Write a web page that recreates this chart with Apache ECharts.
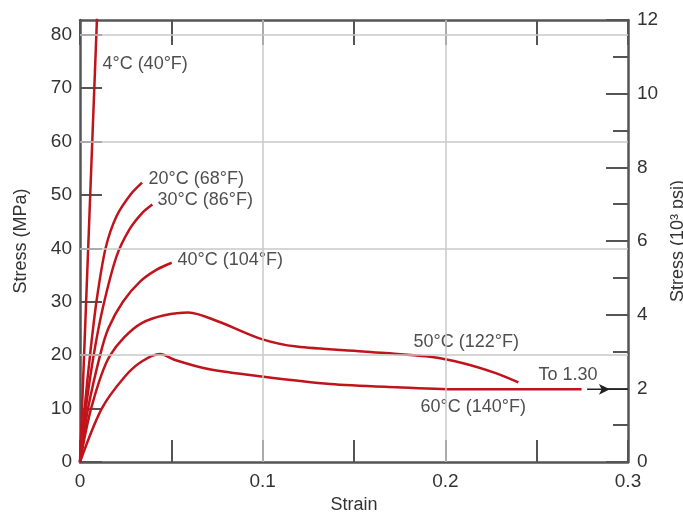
<!DOCTYPE html>
<html><head><meta charset="utf-8">
<script src="https://cdn.jsdelivr.net/npm/echarts@6/dist/echarts.min.js"></script>
<style>html,body{margin:0;padding:0;background:#fff}#c{width:683px;height:513px}</style>
</head><body><div id="c"></div>
<script>
// Stress (MPa) vs strain curves
const curve4C  = [[0,0],[0.0094,84]];
const curve20C = [[0,0],[0.0025,10],[0.0055,20],[0.009,30],[0.014,40],[0.02,46],[0.028,50.2],[0.034,52.3]];
const curve30C = [[0,0],[0.0032,10],[0.0075,20],[0.0126,29],[0.02,38.5],[0.027,43.5],[0.034,46.6],[0.0396,48.2]];
const curve40C = [[0,0],[0.0044,10],[0.011,20],[0.0155,25],[0.0235,30],[0.033,33.8],[0.042,36],[0.0502,37.3]];
const curve50C = [[0,0],[0.0064,10.4],[0.0164,19.9],[0.0338,26.0],[0.0593,28.0],[0.0757,26.3],[0.0995,23.0],[0.1186,21.6],[0.155,20.7],[0.1916,19.7],[0.2098,18.5],[0.228,16.6],[0.24,14.9]];
const curve60C = [[0,0],[0.0119,10.0],[0.0246,16.0],[0.0338,18.8],[0.0438,20.2],[0.052,19.1],[0.0702,17.4],[0.0995,16.0],[0.1369,14.6],[0.1734,14.0],[0.2098,13.6],[0.2746,13.6]];
const arrowLine = [[0.2776,13.6],[0.2901,13.6],[0.3,13.6]];

const curveLabels  = ['4°C (40°F)','20°C (68°F)','30°C (86°F)','40°C (104°F)','50°C (122°F)','60°C (140°F)','To 1.30'];
const labelAnchors = [[0.012,74.5],[0.0372,53.0],[0.0422,49.1],[0.0531,37.8],[0.1823,22.5],[0.1861,10.3],[0.2507,16.3]];

const gridStress = [20, 40, 60, 80];
const gridStrain = [0.1, 0.2];

const strainMax = 0.3;
const mpaMax = 12 * 6.895;   // 12 ksi in MPa
const ksiMax = 12;

const FONT = '"Liberation Sans", Arial, sans-serif';
const TXT = '#333';
const FRAME = '#555';
const RED = '#c0141c';

const chart = echarts.init(document.getElementById('c'));
const isMult = (v, s) => Math.abs(v / s - Math.round(v / s)) < 1e-6;

const baseX = {
  type: 'value', min: 0, max: strainMax, interval: 0.05,
  axisLine: {show: true, onZero: false, lineStyle: {color: FRAME, width: 2.5}},
  axisTick: {show: true, inside: true, length: 22, lineStyle: {color: FRAME, width: 2}},
  splitLine: {show: false}
};
const curveSeries = (d) => ({
  type: 'line', data: d, smooth: 0.3, symbol: 'none', xAxisIndex: 0, yAxisIndex: 0,
  lineStyle: {color: RED, width: 2.5}, z: 3
});

chart.setOption({
  animation: false,
  textStyle: {fontFamily: FONT},
  grid: {left: 80, right: 55, top: 20, bottom: 51, containLabel: false, outerBoundsMode: 'none'},
  xAxis: [
    Object.assign({}, baseX, {
      position: 'bottom',
      axisLabel: {margin: 10, fontSize: 19, color: TXT, fontFamily: FONT,
        formatter: v => isMult(v, 0.1) ? String(+v.toFixed(1)) : ''},
      name: 'Strain', nameLocation: 'middle', nameGap: 29,
      nameTextStyle: {fontSize: 18, color: TXT, fontFamily: FONT}
    }),
    Object.assign({}, baseX, {position: 'top', axisLabel: {show: false},
      axisTick: {show: true, inside: true, length: 25, lineStyle: {color: FRAME, width: 2}}})
  ],
  yAxis: [
    {type: 'value', min: 0, max: mpaMax, interval: 10, position: 'left',
      axisLine: {show: true, onZero: false, lineStyle: {color: FRAME, width: 2.5}},
      axisTick: {show: true, inside: true, length: 22, lineStyle: {color: FRAME, width: 2}},
      axisLabel: {margin: 8, fontSize: 19, color: TXT, fontFamily: FONT, showMaxLabel: false,
        formatter: v => isMult(v, 10) ? String(Math.round(v)) : ''},
      splitLine: {show: false},
      name: 'Stress (MPa)', nameLocation: 'middle', nameGap: 50, nameRotate: 90,
      nameTextStyle: {fontSize: 18, color: TXT, fontFamily: FONT}},
    {type: 'value', min: 0, max: ksiMax, interval: 2, position: 'right',
      axisLine: {show: true, onZero: false, lineStyle: {color: FRAME, width: 2.5}},
      axisTick: {show: true, inside: true, length: 22, lineStyle: {color: FRAME, width: 2}},
      minorTick: {show: true, splitNumber: 2, length: 15, lineStyle: {color: FRAME, width: 2}},
      axisLabel: {margin: 9, fontSize: 19, color: TXT, fontFamily: FONT},
      splitLine: {show: false},
      name: 'Stress (10³ psi)', nameLocation: 'middle', nameGap: 37, nameRotate: 90,
      nameTextStyle: {fontSize: 18, color: TXT, fontFamily: FONT}}
  ],
  series: [
    {type: 'line', data: [], xAxisIndex: 0, yAxisIndex: 0, z: 1, silent: true,
      markLine: {silent: true, symbol: 'none', label: {show: false}, animation: false,
        lineStyle: {color: '#c8c8c8', width: 1.5, type: 'solid'},
        emphasis: {disabled: true},
        data: gridStress.map(v => ({yAxis: v})).concat(gridStrain.map(v => ({xAxis: v})))}},
    curveSeries(curve4C), curveSeries(curve20C), curveSeries(curve30C),
    curveSeries(curve40C), curveSeries(curve50C), curveSeries(curve60C),
    {type: 'line', xAxisIndex: 0, yAxisIndex: 0, symbol: 'none', z: 3,
      lineStyle: {color: '#222', width: 1.5},
      data: arrowLine.map((p, i) => i === 1
        ? {value: p, symbol: 'arrow', symbolSize: [8, 11], symbolRotate: -90, itemStyle: {color: '#222'}}
        : {value: p})},
    {type: 'scatter', xAxisIndex: 0, yAxisIndex: 0, symbolSize: 1, z: 4,
      itemStyle: {color: 'rgba(0,0,0,0)'},
      label: {show: true, position: 'right', distance: 0, fontSize: 18, color: '#222', fontFamily: FONT,
        formatter: p => curveLabels[p.dataIndex]},
      data: labelAnchors}
  ]
});
</script>
</body></html>
